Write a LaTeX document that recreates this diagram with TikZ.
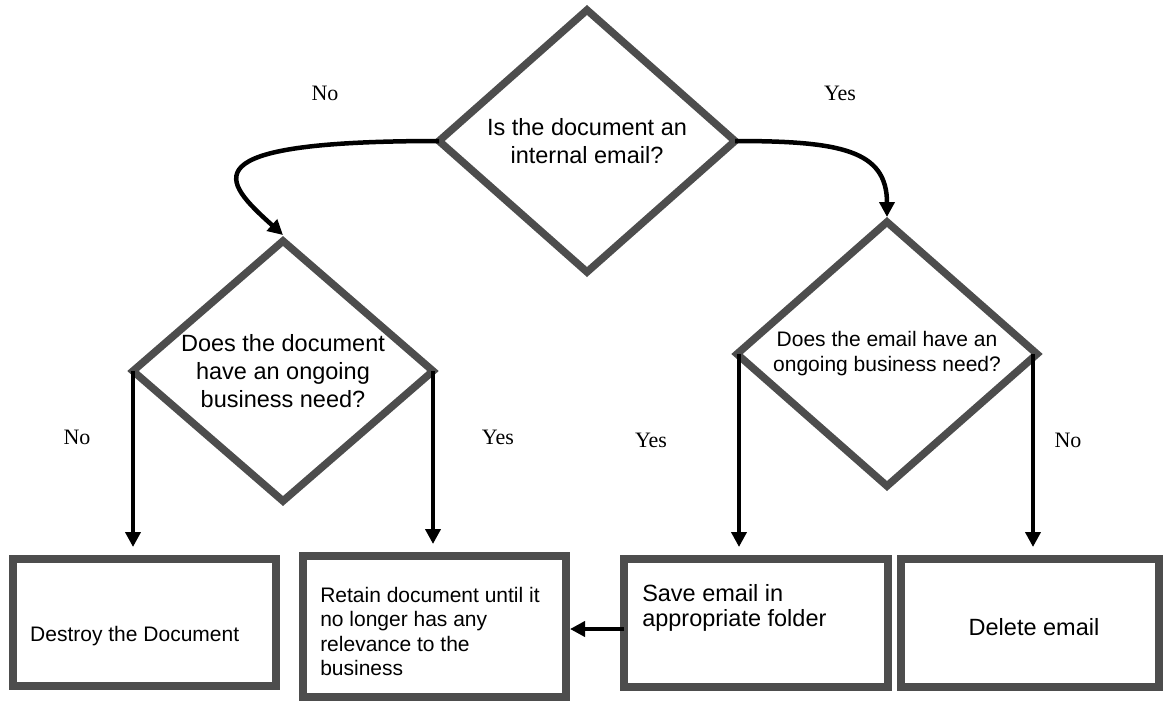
\documentclass[tikz,border=0pt]{standalone}
\usepackage{fontspec}
\setmainfont{Liberation Sans}
\newfontfamily\answerfont{Liberation Serif}
\usetikzlibrary{arrows.meta,shapes.geometric,positioning}
\definecolor{boxgray}{HTML}{4D4D4D}

\begin{document}
\begin{tikzpicture}[x=1pt,y=-1pt,->,>={Triangle[length=15pt,width=15pt]},
                    line width=4.5pt]
  \tikzstyle{decision}=[diamond,draw=boxgray,line width=7.5pt,inner sep=0pt,
                        outer sep=0pt,align=center,shape aspect=1.15]
  \tikzstyle{action}=[rectangle,draw=boxgray,line width=7.5pt,inner sep=0pt,
                      outer sep=0pt]
  \tikzstyle{boxtext}=[inner sep=0pt,align=left]
  \tikzstyle{answer}=[font=\answerfont\fontsize{22}{26}\selectfont]

  \useasboundingbox (0,0) rectangle (1165,702);

  \node[decision,minimum width=296pt,minimum height=262pt,
        font=\fontsize{23.5}{28}\selectfont] (q1) at (587,141)
        {Is the document an\\internal email?};
  \node[decision,minimum width=300pt,minimum height=260pt,
        font=\fontsize{23.5}{28}\selectfont] (q2) at (283,371)
        {Does the document\\have an ongoing\\business need?};
  \node[decision,minimum width=300pt,minimum height=264pt,
        font=\fontsize{21}{25}\selectfont] (q3) at (887,354)
        {Does the email have an\\ongoing business need?};

  \node[action,minimum width=263pt,minimum height=127pt] (b1) at (144.5,622.5) {};
  \node[action,minimum width=263pt,minimum height=141pt] (b2) at (434.5,626.5) {};
  \node[action,minimum width=264pt,minimum height=128pt] (b3) at (756,623) {};
  \node[action,minimum width=258pt,minimum height=128pt] (b4) at (1030,623) {};

  \node[boxtext,font=\fontsize{21}{25}\selectfont] (t1)
        [right=15pt of b1.west,yshift=-14pt] {Destroy the Document};
  \node[boxtext,font=\fontsize{21}{24.5}\selectfont] (t2)
        [right=15pt of b2.west,yshift=-5pt]
        {Retain document until it\\no longer has any\\relevance to the\\business};
  \node[boxtext,font=\fontsize{23.5}{25}\selectfont] (t3)
        [right=16pt of b3.west,yshift=15pt] {Save email in\\appropriate folder};
  \node[boxtext,font=\fontsize{23.5}{28}\selectfont] (t4)
        [xshift=4pt,yshift=-4pt] at (b4) {Delete email};

  \node[answer] (n1) at (325,93) {No};
  \node[answer] (y1) at (840,93) {Yes};
  \node[answer] (n2) at (77,437) {No};
  \node[answer] (y2) at (498,437) {Yes};
  \node[answer] (y3) at (651,440) {Yes};
  \node[answer] (n3) at (1068,440) {No};

  \draw (q1.west) .. controls (184,141) and (223,181) .. ([yshift=6pt]q2.north);
  \draw (q1.east) .. controls (840,141) and (887,150) .. ([yshift=5pt]q3.north);
  \draw[shorten >=12pt] (q2.west) -- (q2.west |- b1.north);
  \draw[shorten >=12pt] (q2.east) -- (q2.east |- b2.north);
  \draw[shorten >=12pt] ([xshift=2pt]q3.west) -- ([xshift=2pt]q3.west |- b3.north);
  \draw[shorten >=12pt] ([xshift=-4pt]q3.east) -- ([xshift=-4pt]q3.east |- b4.north);
  \draw[shorten >=4pt] ([yshift=-6pt]b3.west) -- ([yshift=-6pt]b3.west -| b2.east);
\end{tikzpicture}
\end{document}
